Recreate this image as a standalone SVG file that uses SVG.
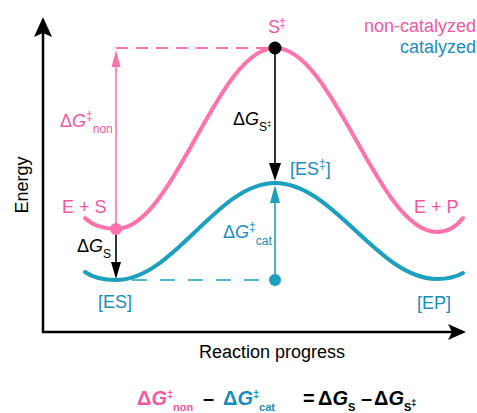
<svg xmlns="http://www.w3.org/2000/svg" width="477" height="413" viewBox="0 0 477 413">
<style>
text{font-family:"Liberation Sans",Arial,sans-serif;font-size:18px}
.pk{fill:#F3589F}
.cy{fill:#1A8DBF}
.it{font-style:italic}
.sm{font-size:12px}
.eq{font-size:20px;font-weight:bold}
.eq .sm{font-size:11px}
.curve{fill:none;stroke-width:4;stroke-linecap:round}
.ax{stroke:#000;stroke-width:2.5;fill:none}
</style>
<rect width="477" height="413" fill="#fff"/>
<g id="axes">
<line class="ax" x1="43" y1="30" x2="43" y2="333"/>
<line class="ax" x1="42" y1="332" x2="455" y2="332"/>
<path d="M43,17 L52,37 L43,33 L34,37 Z" fill="#000"/>
<path d="M466,332 L448,340 L452,332 L448,324 Z" fill="#000"/>
<text x="0" y="0" transform="translate(28,185) rotate(-90)" text-anchor="middle" font-size="17">Energy</text>
<text x="272" y="358" text-anchor="middle" font-size="17">Reaction progress</text>
</g>
<g id="curves">
<path class="curve" stroke="#FF72AB" d="M85,218 C92,225 104,229 116,229 C174,229 217,48 275,48 C334,48 378,232 437,232 C448,232 456,227 463,218"/>
<path class="curve" stroke="#1BA1BF" d="M85,272 C92,277 104,280 116,280 C174,280 217,183 275,183 C334,183 378,279 437,279 C448,279 456,277 463,273"/>
</g>
<g id="connectors">
<line x1="116" y1="48" x2="272" y2="48" stroke="#FF72AB" stroke-width="2" stroke-dasharray="12 8"/>
<line x1="132" y1="280" x2="272" y2="280" stroke="#1BA1BF" stroke-width="1.6" stroke-dasharray="15 13"/>
<line x1="116" y1="229" x2="116" y2="64" stroke="#FF72AB" stroke-width="1.6"/>
<path d="M116,50 L120.5,67 L111.5,67 Z" fill="#FF72AB"/>
<line x1="275" y1="48" x2="275" y2="166" stroke="#000" stroke-width="1.6"/>
<path d="M275,181 L281,163 L269,163 Z" fill="#000"/>
<line x1="275" y1="280" x2="275" y2="200" stroke="#1BA1BF" stroke-width="1.6"/>
<path d="M275,185 L280,203 L270,203 Z" fill="#1BA1BF"/>
<line x1="116" y1="229" x2="116" y2="265" stroke="#000" stroke-width="1.6"/>
<path d="M116,279 L121,262 L111,262 Z" fill="#000"/>
</g>
<g id="node-s-dagger">
<circle cx="275" cy="48" r="6.5" fill="#000"/>
<text class="pk" x="268" y="33">S<tspan class="sm" y="27" dx="-1">‡</tspan></text>
</g>
<g id="node-es-dagger">
<circle cx="275" cy="280" r="6" fill="#1BA1BF"/>
<text class="cy" x="290" y="175">[ES<tspan class="sm" y="168">‡</tspan><tspan y="175">]</tspan></text>
</g>
<g id="node-e-s">
<circle cx="116" cy="229" r="6" fill="#FF72AB"/>
<text class="pk" x="62" y="213">E + S</text>
</g>
<g id="node-es">
<text class="cy" x="98" y="308">[ES]</text>
</g>
<g id="node-e-p">
<text class="pk" x="414" y="213">E + P</text>
</g>
<g id="node-ep">
<text class="cy" x="417" y="309">[EP]</text>
</g>
<g id="legend">
<text class="pk" x="476" y="32" text-anchor="end">non-catalyzed</text>
<text class="cy" x="476" y="53" text-anchor="end">catalyzed</text>
</g>
<g id="labels">
<text class="pk" x="60" y="127">Δ<tspan class="it">G</tspan><tspan class="sm" y="120">‡</tspan><tspan class="sm" y="133">non</tspan></text>
<text x="233" y="125">Δ<tspan class="it">G</tspan><tspan class="sm" y="131">S</tspan><tspan font-size="8" y="126">‡</tspan></text>
<text class="cy" x="223" y="238">Δ<tspan class="it">G</tspan><tspan class="sm" y="231">‡</tspan><tspan class="sm" y="245">cat</tspan></text>
<text x="77" y="252">Δ<tspan class="it">G</tspan><tspan class="sm" y="258">S</tspan></text>
</g>
<g id="equation">
<text class="eq pk" x="137" y="405">Δ<tspan class="it">G</tspan><tspan class="sm" y="398">‡</tspan><tspan class="sm" y="411">non</tspan></text>
<text class="eq" x="203" y="405">–</text>
<text class="eq cy" x="223" y="405">Δ<tspan class="it">G</tspan><tspan class="sm" y="398">‡</tspan><tspan class="sm" y="411">cat</tspan></text>
<text class="eq" x="303" y="405">=</text>
<text class="eq" x="318" y="405">Δ<tspan class="it">G</tspan><tspan class="sm" y="411">S</tspan></text>
<text class="eq" x="361" y="405">–</text>
<text class="eq" x="374" y="405">Δ<tspan class="it">G</tspan><tspan class="sm" y="411">S</tspan><tspan font-size="9" y="406">‡</tspan></text>
</g>
</svg>
